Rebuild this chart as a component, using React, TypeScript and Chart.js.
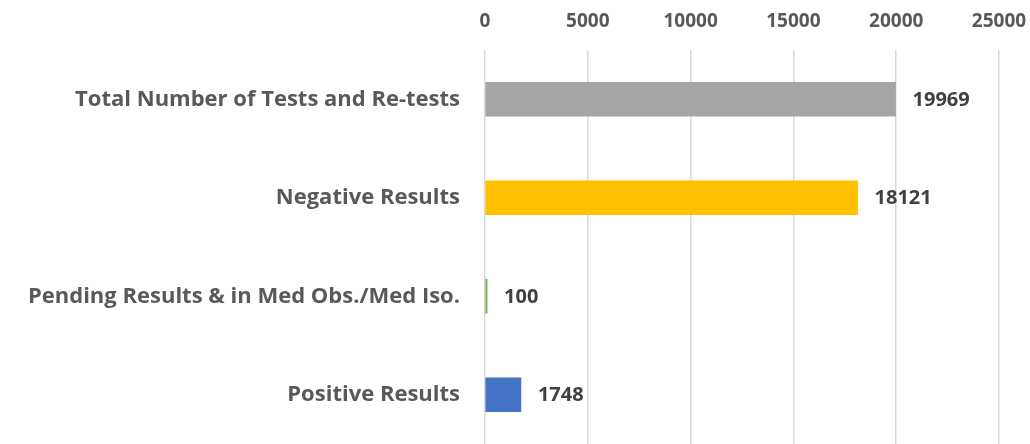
import React, { useEffect, useRef } from "react";
import { Chart, registerables } from "chart.js";

Chart.register(...registerables);

const categories = [
  "Total Number of Tests and Re-tests",
  "Negative Results",
  "Pending Results & in Med Obs./Med Iso.",
  "Positive Results",
];
const values = [19969, 18121, 100, 1748];
const barColors = ["#a5a5a5", "#ffc000", "#70ad47", "#4472c4"];
const axisMax = 25000;
const axisStep = 5000;

const FONT = "'Open Sans', sans-serif";

const valueLabels = {
  id: "valueLabels",
  afterDatasetsDraw(chart: any) {
    const ctx = chart.ctx;
    const meta = chart.getDatasetMeta(0);
    ctx.save();
    ctx.font = `bold 20px ${FONT}`;
    ctx.fillStyle = "#404040";
    ctx.textAlign = "left";
    ctx.textBaseline = "middle";
    meta.data.forEach((bar: any, i: number) => {
      ctx.fillText(String(values[i]), bar.x + 17, bar.y + 1);
    });
    ctx.restore();
  },
};

export default function App() {
  const ref = useRef<HTMLCanvasElement | null>(null);
  useEffect(() => {
    if (!ref.current) return;
    const chart = new Chart(ref.current, {
      type: "bar",
      data: {
        labels: categories,
        datasets: [
          {
            data: values,
            backgroundColor: barColors,
            barThickness: 34,
          },
        ],
      },
      options: {
        indexAxis: "y",
        animation: false,
        responsive: false,
        maintainAspectRatio: false,
        layout: { padding: { left: 0, right: 0, top: 0, bottom: 0 } },
        plugins: { legend: { display: false }, tooltip: { enabled: false } },
        scales: {
          x: {
            position: "top",
            min: 0,
            max: axisMax,
            ticks: {
              stepSize: axisStep,
              color: "#595959",
              font: { family: FONT, size: 19, weight: "bold" },
              padding: 17,
              callback: (v: any) => String(v),
            },
            grid: { color: "#d9d9d9", lineWidth: 1.5, drawTicks: false },
            border: { display: false },
            afterFit: (s: any) => {
              s.height = 50;
              s.paddingLeft = 0;
              s.paddingRight = 31;
            },
          },
          y: {
            ticks: {
              color: "#595959",
              font: { family: FONT, size: 22, weight: "bold" },
              padding: 25,
            },
            grid: { display: false, drawTicks: false },
            border: { display: false },
            afterFit: (s: any) => {
              s.width = 485;
              s.paddingTop = 0;
              s.paddingBottom = 0;
            },
          },
        },
      },
      plugins: [valueLabels],
    });
    return () => chart.destroy();
  }, []);
  return (
    <div style={{ position: "absolute", left: 0, top: 0, width: 1030, height: 444, background: "#fff" }}>
      <canvas ref={ref} width={1030} height={444} />
    </div>
  );
}
